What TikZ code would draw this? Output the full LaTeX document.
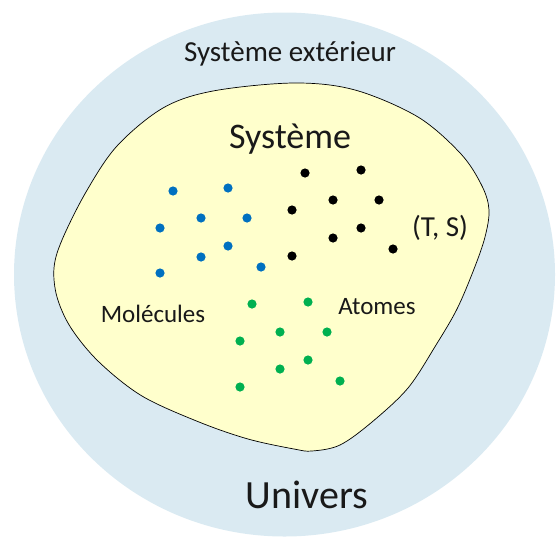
\documentclass[tikz,border=0pt]{standalone}
\usepackage{fontspec}
\setmainfont{Carlito}
\definecolor{universbleu}{RGB}{218,234,242}
\definecolor{systemejaune}{RGB}{255,255,204}
\definecolor{moleculebleu}{RGB}{0,112,192}
\definecolor{atomevert}{RGB}{0,176,80}
\begin{document}
\begin{tikzpicture}[x=1pt,y=-1pt,
		texte/.style={inner sep=0pt,anchor=base,text=black!90},
		particule/.style={radius=4.6}]
					\useasboundingbox (0,0) rectangle (556,538);
					\fill[universbleu] (284.5,274.5) ellipse [x radius=270.5,y radius=262];
					\draw[fill=systemejaune,line width=0.7pt] plot[smooth cycle,tension=0.55] coordinates {(294,83) (355,90) (418,117) (461,154) (482,186) (489,210) (485,237) (474,269) (457,309) (436,345) (408,388) (372,422) (340,445) (312,451) (294,449) (248,439) (199,422) (142,396) (99,362) (71,328) (57,297) (54,268) (62,240) (86,192) (117,146) (163,108) (213,91)};
					\foreach \p in {(173,191),(228,188),(201,218),(247,218),(160,228),(228,246),(201,257),(160,273),(261,267)}
						\fill[moleculebleu] \p circle[particule];
					\foreach \p in {(305,173),(361,170),(333,200),(379,200),(292,210),(361,228),(333,238),(393,249),(292,256)}
						\fill[black] \p circle[particule];
					\foreach \p in {(252,304),(308,302),(280,332),(327,332),(240,341),(308,360),(280,369),(240,387),(340,381)}
						\fill[atomevert] \p circle[particule];
					\node[texte,font=\fontsize{29}{29}\selectfont] (exterieur) at (290,61) {Système extérieur};
					\node[texte,font=\fontsize{36}{36}\selectfont] (systeme) at (290,148) {Système};
					\node[texte,font=\fontsize{29}{29}\selectfont] (etat) at (440,236) {(T, S)};
					\node[texte,font=\fontsize{25}{25}\selectfont] (molecules) at (153,322) {Molécules};
					\node[texte,font=\fontsize{25}{25}\selectfont] (atomes) at (377,314) {Atomes};
					\node[texte,font=\fontsize{40}{40}\selectfont] (univers) at (307,508) {Univers};
				\end{tikzpicture}
\end{document}
